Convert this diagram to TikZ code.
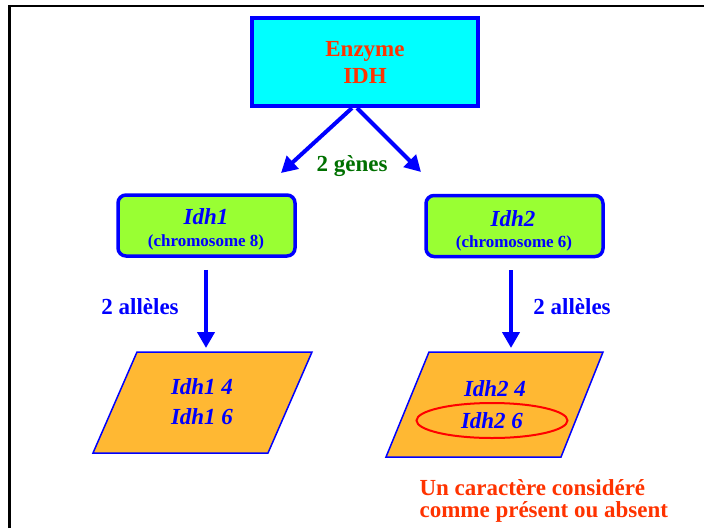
\documentclass[tikz,border=0pt]{standalone}
\usepackage{fontspec}
\setmainfont{Liberation Serif}
\usetikzlibrary{arrows.meta,shapes.geometric}
\definecolor{enzcyan}{HTML}{00FFFF}
\definecolor{genegreen}{HTML}{99FF33}
\definecolor{alleleorange}{HTML}{FFB833}
\definecolor{redtext}{HTML}{FF3300}
\definecolor{greentext}{HTML}{007000}
\def\bigfont{\fontsize{23}{27}\selectfont\bfseries}
\def\smallfont{\fontsize{17}{20}\selectfont\bfseries}

\begin{document}
\begin{tikzpicture}[x=1pt, y=-1pt,
	genebox/.style={draw=blue, line width=3.5pt, fill=genegreen, rounded corners=8pt, minimum width=177pt, minimum height=61pt},
	fleche/.style={draw=blue, line width=4pt, -{Triangle[length=16pt,width=17pt]}},
	bluetext/.style={text=blue, font=\bigfont}]
		%%%%% START %%%%%
		\useasboundingbox (0,0) rectangle (704,528);
		
		\draw[line width=2.5pt] (9.5,528) -- (9.5,6) -- (704,6);
		
		\node[draw=blue, line width=4pt, fill=enzcyan, minimum width=226pt, minimum height=88pt, align=center, text=redtext, font=\bigfont] (enz) at (365,62) {Enzyme\\IDH};
		
		\coordinate (geneA) at (281,173);
		\coordinate (geneB) at (421,172);
		\draw[fleche] ([xshift=-13pt]enz.south) -- (geneA);
		\draw[fleche] ([xshift=-8pt]enz.south) -- (geneB);
		\node[text=greentext, font=\bigfont] (deux) at (352,166) {2 gènes};
		
		\node[genebox] (idhA) at (206.5,225.5) {};
		\node[bluetext, font=\bigfont\itshape] (idhAnom) at (206,217) {Idh1};
		\node[text=blue, font=\smallfont] (idhAchr) at (206,242) {(chromosome 8)};
		\node[genebox] (idhB) at (514.5,226) {};
		\node[bluetext, font=\bigfont\itshape] (idhBnom) at (513,219) {Idh2};
		\node[text=blue, font=\smallfont] (idhBchr) at (514,243) {(chromosome 6)};
		
		\filldraw[draw=blue, fill=alleleorange, line width=1.5pt] (137,352) -- (312,352) -- (268,453) -- (93,453) -- cycle;
		\filldraw[draw=blue, fill=alleleorange, line width=1.5pt] (429,352) -- (603,352) -- (561,457) -- (386,457) -- cycle;
		
		\coordinate (allA) at (206,352);
		\coordinate (allB) at (511,352);
		\draw[fleche, shorten <=12pt, shorten >=4pt] (idhA.south -| allA) -- (allA);
		\draw[fleche, shorten <=12pt, shorten >=4pt] (idhB.south -| allB) -- (allB);
		\node[bluetext] (nbA) at (140,307) {2 allèles};
		\node[bluetext] (nbB) at (572,307) {2 allèles};
		
		\node[bluetext, font=\bigfont\itshape] (idhAquatre) at (202,387) {Idh1 4};
		\node[bluetext, font=\bigfont\itshape] (idhAsix) at (202,417) {Idh1 6};
		\node[bluetext, font=\bigfont\itshape] (idhBquatre) at (495,389) {Idh2 4};
		\node[bluetext, font=\bigfont\itshape, ellipse, draw=red, line width=2pt, minimum width=151pt, minimum height=35pt, inner sep=0pt] (idhBsix) at (492,420.5) {Idh2 6};
		
		\node[anchor=base west, align=left, text=redtext, font=\fontsize{23}{22}\selectfont\bfseries] (note) at (416,517) {Un caractère considéré\\comme présent ou absent};
		
		%%%%% END %%%%%
	\end{tikzpicture}
\end{document}
